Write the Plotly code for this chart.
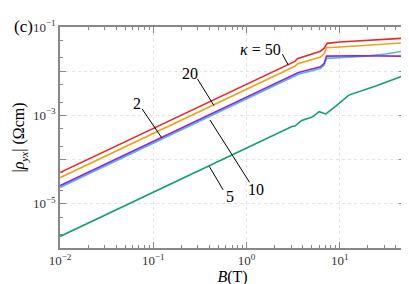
import plotly.graph_objects as go

# ---- data (B in tesla, rho in Ohm cm) ----
B_k50 = [0.01, 1.0, 2.5, 3.3, 3.5, 5.0, 6.2, 6.8, 7.1, 7.3, 10, 20, 50]
rho_k50 = [5.1e-5, 5.1e-3, 1.26e-2, 1.66e-2, 1.91e-2, 2.40e-2, 2.82e-2, 3.31e-2, 3.98e-2, 4.27e-2, 4.57e-2, 5.0e-2, 5.6e-2]

B_k20 = [0.01, 1.0, 2.5, 3.3, 3.5, 6.2, 6.8, 7.2, 15, 50]
rho_k20 = [3.9e-5, 3.9e-3, 9.5e-3, 1.29e-2, 1.45e-2, 2.09e-2, 2.51e-2, 3.39e-2, 3.72e-2, 4.42e-2]

B_k2 = [0.01, 1.0, 2.7, 3.3, 3.6, 6.2, 6.8, 7.2, 15, 50]
rho_k2 = [2.57e-5, 2.57e-3, 6.9e-3, 8.3e-3, 9.3e-3, 1.26e-2, 1.51e-2, 2.19e-2, 2.24e-2, 2.19e-2]

B_k10 = [0.01, 1.0, 2.7, 3.3, 3.6, 6.2, 6.8, 7.2, 11.7, 19, 31, 50]
rho_k10 = [2.34e-5, 2.34e-3, 6.3e-3, 7.6e-3, 8.5e-3, 1.15e-2, 1.38e-2, 1.95e-2, 2.09e-2, 2.19e-2, 2.45e-2, 2.88e-2]

B_k5 = [0.01, 1.0, 2.13, 2.6, 3.07, 3.3, 3.9, 4.8, 5.2, 6.0, 7.1, 9.2, 12.5, 24.3, 50]
rho_k5 = [1.82e-6, 1.82e-4, 3.8e-4, 4.7e-4, 5.6e-4, 5.75e-4, 7.7e-4, 8.9e-4, 9.5e-4, 1.21e-3, 1.08e-3, 1.66e-3, 2.88e-3, 4.62e-3, 8.1e-3]

series = [
    ("50", B_k50, rho_k50, "#e8282b"),
    ("20", B_k20, rho_k20, "#eea21b"),
    ("2", B_k2, rho_k2, "#8f2ad6"),
    ("10", B_k10, rho_k10, "#5ab4e8"),
    ("5", B_k5, rho_k5, "#139f73"),
]

x_tickvals = [0.01, 0.1, 1, 10]
x_ticktext = ["10<sup>−2</sup>", "10<sup>−1</sup>", "10<sup>0</sup>", "10<sup>1</sup>"]
y_tickvals = [1e-6, 1e-5, 1e-4, 1e-3, 1e-2, 1e-1]
y_ticktext = ["", "10<sup>−5</sup>", "", "10<sup>−3</sup>", "", "10<sup>−1</sup>"]

SERIF = "'Liberation Serif', 'DejaVu Serif', serif"

fig = go.Figure()
for name, bx, ry, col in [series[3], series[2], series[4], series[1], series[0]]:
    fig.add_trace(go.Scatter(x=bx, y=ry, mode="lines", name=name,
                             line=dict(color=col, width=1.6), showlegend=False))

W, H = 409, 284
L, R, T, Bm = 50, 10, 11, 30
pw, ph = W - L - R, H - T - Bm

def px(x):
    return (x - L) / pw

def py(y):
    return (H - Bm - y) / ph

leaders = [
    ((275, 41), (281, 53)),
    ((189, 68), (205.7, 97.3)),
    ((133, 101), (153, 133)),
    ((241.7, 181.7), (201.7, 113.3)),
    ((215, 190), (201, 164.3)),
]
for (a, b) in leaders:
    fig.add_shape(type="line", xref="paper", yref="paper",
                  x0=px(a[0]), y0=py(a[1]), x1=px(b[0]), y1=py(b[1]),
                  line=dict(color="black", width=1))

labels = [
    ("<i>κ</i> = 50", 253, 36),
    ("20", 181.7, 61.7),
    ("2", 128.3, 95),
    ("10", 248.3, 190),
    ("5", 221.7, 197.3),
]
for txt, x, y in labels:
    fig.add_annotation(text=txt, xref="paper", yref="paper", x=px(x), y=py(y),
                       showarrow=False, xanchor="center", yanchor="middle",
                       font=dict(family=SERIF, size=16, color="black"))

fig.add_annotation(text="(c)", xref="paper", yref="paper", x=px(1), y=py(10),
                   xanchor="left", yanchor="middle", showarrow=False,
                   font=dict(family=SERIF, size=17, color="black"))

axis_common = dict(
    type="log", showline=True, linecolor="#888888", linewidth=1.5, mirror="ticks",
    ticks="inside", ticklen=6, tickcolor="#888888", tickwidth=1,
    showgrid=True, gridcolor="#e4e4e4", griddash="dot", gridwidth=1,
    zeroline=False, tickfont=dict(family=SERIF, size=13, color="#333333"),
)

fig.update_xaxes(**axis_common, range=[-2, 1.699], tickvals=x_tickvals, ticktext=x_ticktext,
                 minor=dict(ticks="inside", ticklen=3, tickcolor="#888888", dtick="D1", showgrid=False),
                 title=dict(text="<i>B</i>(T)", standoff=2,
                            font=dict(family=SERIF, size=16, color="black")))
fig.update_yaxes(**axis_common, range=[-6, -1], tickvals=y_tickvals, ticktext=y_ticktext,
                 minor=dict(ticks="inside", ticklen=3, tickcolor="#888888", dtick="D2", showgrid=False),
                 title=dict(text="|<i>ρ<sub>yx</sub></i>| (Ωcm)", standoff=4,
                            font=dict(family=SERIF, size=16, color="black")))

fig.update_layout(width=W, height=H, margin=dict(l=L, r=R, t=T, b=Bm),
                  font=dict(family=SERIF),
                  plot_bgcolor="white", paper_bgcolor="white", showlegend=False)

fig.write_html("out.html")
